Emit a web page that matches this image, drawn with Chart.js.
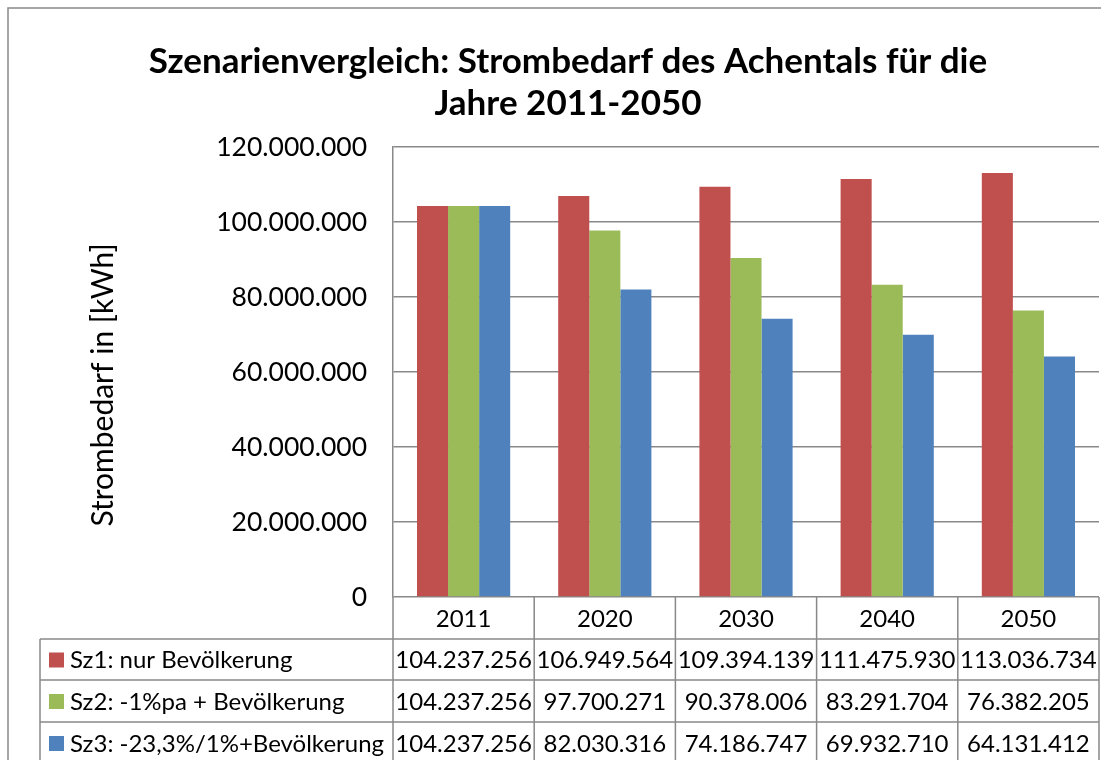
<!DOCTYPE html>
<html>
<head>
<meta charset="utf-8">
<script src="https://cdn.jsdelivr.net/npm/chart.js@4"></script>
<style>
  html, body { margin: 0; padding: 0; background: #fff; }
  #wrap { width: 1101px; height: 760px; position: relative; }
</style>
</head>
<body>
<div id="wrap"><canvas id="chart" width="1101" height="760"></canvas></div>
<script>
const years = ['2011', '2020', '2030', '2040', '2050'];
const seriesNames = ['Sz1: nur Bevölkerung', 'Sz2: -1%pa + Bevölkerung', 'Sz3: -23,3%/1%+Bevölkerung'];
const sz1 = [104237256, 106949564, 109394139, 111475930, 113036734];
const sz2 = [104237256, 97700271, 90378006, 83291704, 76382205];
const sz3 = [104237256, 82030316, 74186747, 69932710, 64131412];
const colors = ['#C0504D', '#9BBB59', '#4F81BD'];
const yTitle = 'Strombedarf in [kWh]';

const FONT = 'Lato, "Open Sans", sans-serif';
const gridColor = '#898989';

// German number format: 104.237.256
function fmt(n) {
    return String(Math.round(n)).replace(/\B(?=(\d{3})+(?!\d))/g, '.');
}

// draws outer frame, y title (sits a bit below the axis middle in the original) and the data table
const tablePlugin = {
    id: 'dataTable',
    afterDraw(chart) {
        const ctx = chart.ctx;
        const x = chart.scales.x;
        const area = chart.chartArea;
        const rowTop = area.bottom;
        const rows = [rowTop, 639, 680, 722, 764];
        const legendLeft = 40;
        const half = (x.getPixelForTick(1) - x.getPixelForTick(0)) / 2;
        const data = [sz1, sz2, sz3];

        ctx.save();
        ctx.strokeStyle = gridColor;
        ctx.lineWidth = 1.5;

        // outer chart frame (right/bottom outside the picture)
        ctx.strokeRect(8, 8, 1200, 1200);

        // horizontal lines
        ctx.beginPath();
        for (let r = 1; r < rows.length - 1; r++) {
            ctx.moveTo(legendLeft, rows[r]);
            ctx.lineTo(area.right, rows[r]);
        }
        // vertical lines of the value columns
        for (let i = 0; i <= years.length; i++) {
            const px = i < years.length ? x.getPixelForTick(i) - half : x.getPixelForTick(years.length - 1) + half;
            ctx.moveTo(px, rowTop);
            ctx.lineTo(px, 760);
        }
        ctx.moveTo(legendLeft, rows[1]);
        ctx.lineTo(legendLeft, 760);
        ctx.stroke();

        ctx.fillStyle = '#000';
        ctx.textBaseline = 'middle';

        // y axis title
        ctx.save();
        ctx.translate(103, 385);
        ctx.rotate(-Math.PI / 2);
        ctx.textAlign = 'center';
        ctx.font = '30px ' + FONT;
        ctx.fillText(yTitle, 0, 0);
        ctx.restore();

        ctx.textAlign = 'center';
        ctx.font = '24px ' + FONT;
        years.forEach((y, i) => {
            ctx.fillText(y, x.getPixelForTick(i), (rows[0] + rows[1]) / 2 + 1);
        });

        for (let s = 0; s < 3; s++) {
            const cy = (rows[s + 1] + rows[s + 2]) / 2 + 1;
            ctx.textAlign = 'center';
            data[s].forEach((v, i) => {
                ctx.fillText(fmt(v), x.getPixelForTick(i), cy);
            });
            ctx.fillStyle = colors[s];
            ctx.fillRect(49, cy - 8, 15, 15);
            ctx.fillStyle = '#000';
            ctx.textAlign = 'left';
            ctx.fillText(seriesNames[s], 70, cy);
        }
        ctx.restore();
    }
};

new Chart(document.getElementById('chart'), {
    type: 'bar',
    data: {
        labels: years,
        datasets: [
            { label: seriesNames[0], data: sz1, backgroundColor: colors[0] },
            { label: seriesNames[1], data: sz2, backgroundColor: colors[1] },
            { label: seriesNames[2], data: sz3, backgroundColor: colors[2] }
        ]
    },
    options: {
        responsive: false,
        animation: false,
        layout: { padding: { left: 37, right: 2, top: 41, bottom: 163 } },
        datasets: {
            bar: { categoryPercentage: 0.66, barPercentage: 1.0 }
        },
        plugins: {
            legend: { display: false },
            tooltip: { enabled: false },
            title: {
                display: true,
                text: ['Szenarienvergleich: Strombedarf des Achentals für die', 'Jahre 2011-2050'],
                color: '#000',
                font: { family: FONT, size: 35, weight: 'bold', lineHeight: 1.2 },
                padding: { top: 0, bottom: 22 }
            }
        },
        scales: {
            x: {
                display: false,
                grid: { display: false }
            },
            y: {
                min: 0,
                max: 120000000,
                ticks: {
                    stepSize: 20000000,
                    color: '#000',
                    padding: 26,
                    font: { family: FONT, size: 26.5 },
                    callback: v => fmt(v)
                },
                grid: { color: gridColor, lineWidth: 1.5, drawTicks: false },
                border: { color: gridColor, width: 1.5 },
                afterFit(scale) { scale.width = 356; }
            }
        }
    },
    plugins: [tablePlugin]
});
</script>
</body>
</html>
